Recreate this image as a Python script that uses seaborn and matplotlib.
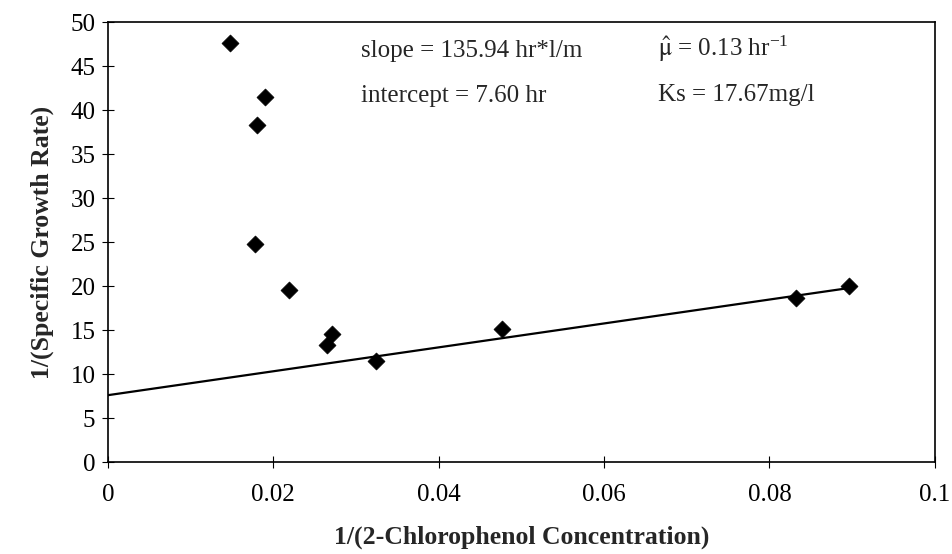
import matplotlib
matplotlib.use("Agg")
import matplotlib.pyplot as plt
import seaborn as sns
import pandas as pd

# Data
inv_conc = [0.0148, 0.0190, 0.0180, 0.0178, 0.0219, 0.0271, 0.0265, 0.0324, 0.0476, 0.0832, 0.0896]
inv_rate = [47.6, 41.5, 38.3, 24.8, 19.5, 14.5, 13.3, 11.5, 15.1, 18.7, 20.0]
fit_x = [0.0, 0.09]
fit_y = [7.60, 19.83]
x_ticks = [0, 0.02, 0.04, 0.06, 0.08, 0.1]
x_tick_labels = ["0", "0.02", "0.04", "0.06", "0.08", "0.1"]
y_ticks = [0, 5, 10, 15, 20, 25, 30, 35, 40, 45, 50]

sns.set_theme(style="white")
plt.rcParams['font.family'] = ['Liberation Serif', 'DejaVu Serif']
plt.rcParams['mathtext.fontset'] = 'stix'

df = pd.DataFrame({"x": inv_conc, "y": inv_rate})
fit = pd.DataFrame({"x": fit_x, "y": fit_y})

fig = plt.figure(figsize=(9.52, 5.54), dpi=100)
ax = fig.add_axes([0.1134, 0.166, 0.8686, 0.794])

sns.lineplot(data=fit, x="x", y="y", ax=ax, color="black", linewidth=1.6)
sns.scatterplot(data=df, x="x", y="y", ax=ax, marker="D", s=75, color="black",
                edgecolor="black", linewidth=0.5, zorder=3)

ax.set_xlim(0, 0.1)
ax.set_ylim(0, 50)
ax.set_xticks(x_ticks)
ax.set_xticklabels(x_tick_labels)
ax.set_yticks(y_ticks)
ax.tick_params(axis="both", direction="inout", length=8, width=0.8, colors="black",
               labelsize=18, left=True, bottom=True)
ax.tick_params(axis="x", pad=12)
ax.tick_params(axis="y", pad=5)
for s in ax.spines.values():
    s.set_color("black")
    s.set_linewidth(1.2)

ax.set_xlabel("1/(2-Chlorophenol Concentration)", fontsize=18.5, fontweight="bold", labelpad=14)
ax.set_ylabel("1/(Specific Growth Rate)", fontsize=18.5, fontweight="bold", labelpad=12)

ax.text(0.3055, 0.935, "slope = 135.94 hr*l/m", transform=ax.transAxes, fontsize=18, va="center", ha="left")
ax.text(0.3055, 0.833, "intercept = 7.60 hr", transform=ax.transAxes, fontsize=18, va="center", ha="left")
ax.text(0.6646, 0.94, r"$\hat{\mathrm{\mu}}$ = 0.13 hr$^{\mathregular{-1}}$", transform=ax.transAxes, fontsize=18, va="center", ha="left")
ax.text(0.6646, 0.835, "Ks = 17.67mg/l", transform=ax.transAxes, fontsize=18, va="center", ha="left")

fig.savefig("out.png", dpi=100)
